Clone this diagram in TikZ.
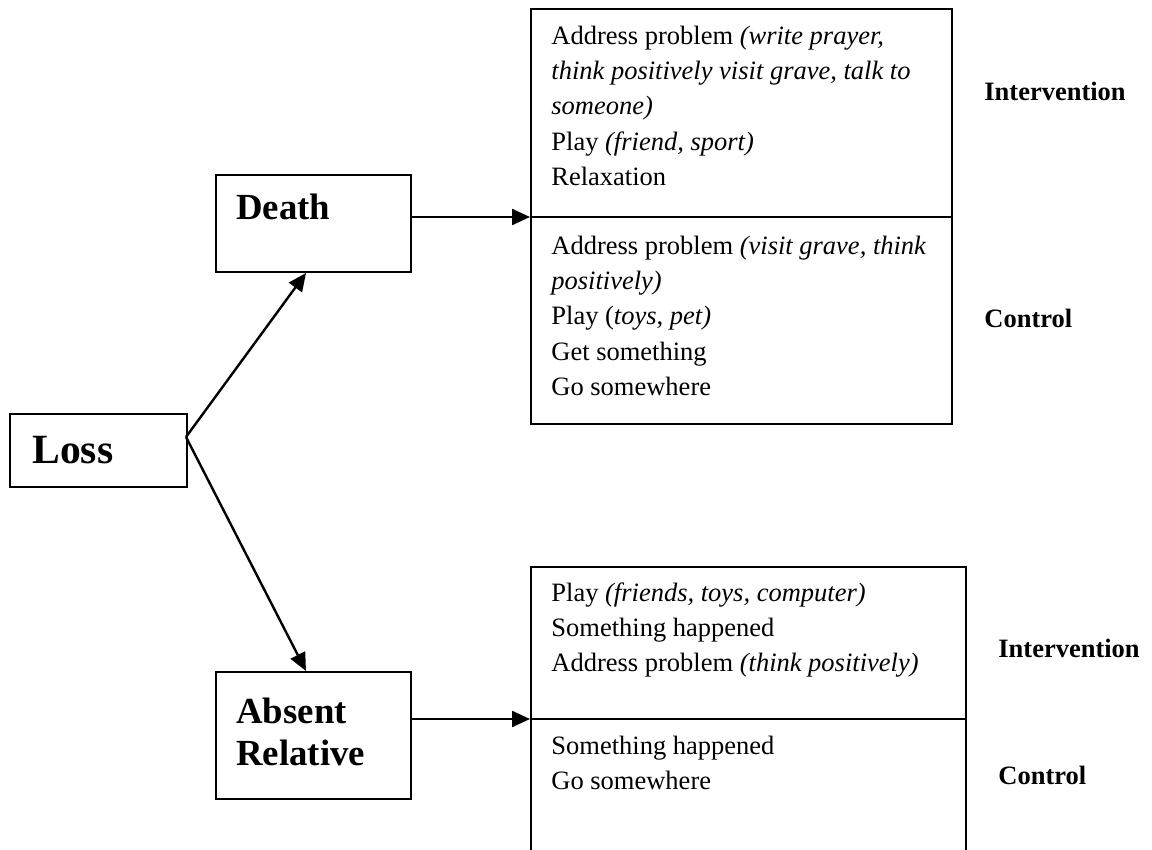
\documentclass[tikz,border=0pt]{standalone}
\usepackage{fontspec}
\setmainfont{Liberation Serif}
\usetikzlibrary{positioning,arrows.meta}

\begin{document}
\begin{tikzpicture}[
        x=0.5pt, y=-0.5pt,
        box/.style={
            rectangle, draw = black, line width = 1pt, anchor = north west, inner sep = 0pt
        },
        entries/.style={
            anchor = north west, inner sep = 0pt, align = left,
            font = \fontsize{13.25}{17.6}\selectfont
        },
        group/.style={
            anchor = base west, inner sep = 0pt,
            font = \fontsize{13.25}{16}\selectfont\bfseries
        },
        cause/.style={
            anchor = base west, inner sep = 0pt, align = left,
            font = \fontsize{18.4}{21}\selectfont\bfseries
        },
        flow/.style={
            -{Triangle[length=9pt,width=8pt]}, line width = 1.2pt
        },
    ]
    \useasboundingbox (0,0) rectangle (1152,850);
    \clip (0,0) rectangle (1152,850);

    \node (loss) [box, minimum width = 88.5pt, minimum height = 36.5pt] at (9,413) {};
    \node (lossText) [cause, font = \fontsize{20.8}{24}\selectfont\bfseries] at (32,463) {Loss};
    \coordinate (lossOut) at (186,437);

    \node (death) [box, minimum width = 97.5pt, minimum height = 48.5pt] at (215,174) {};
    \node (deathText) [cause] at (236,220) {Death};
    \path (lossOut) edge[flow] ([xshift=-3.75pt]death.south);

    \node (absent) [box, minimum width = 97.5pt, minimum height = 63.5pt] at (215,671) {};
    \node (absentText) [cause, anchor = north west] at (236,693.6) {\strut Absent \\ Relative};
    \path (lossOut) edge[flow] ([xshift=-3.75pt]absent.north);

    % death: intervention above, control below
    \node (deathBox) [box, minimum width = 210.5pt, minimum height = 207.5pt] at (530,8) {};
    \coordinate (deathSplit) at (530,217);
    \draw[line width = 1pt] (deathSplit) -- (deathSplit -| deathBox.east);
    \path (death.east |- deathSplit) edge[flow] (deathSplit);
    \node (deathInter) [entries] at (551,19.4) {\strut Address problem \textit{(write prayer,} \\
        \textit{think positively visit grave, talk to} \\ \textit{someone)} \\
        Play \textit{(friend, sport)} \\ Relaxation};
    \node (deathCtrl) [entries] at (551,229.4) {\strut Address problem \textit{(visit grave, think} \\
        \textit{positively)} \\ Play (\textit{toys}, \textit{pet)} \\ Get something \\ Go somewhere};
    \node (deathInterLabel) [group] at (984,101) {Intervention};
    \node (deathCtrlLabel) [group] at (984,328) {Control};

    % absent relative: intervention above, control below
    \node (absentBox) [box, minimum width = 217.5pt, minimum height = 150pt] at (530,566) {};
    \coordinate (absentSplit) at (530,719);
    \draw[line width = 1pt] (absentSplit) -- (absentSplit -| absentBox.east);
    \path (absent.east |- absentSplit) edge[flow] (absentSplit);
    \node (absentInter) [entries] at (551,576.4) {\strut Play \textit{(friends, toys, computer)} \\
        Something happened \\ Address problem \textit{(think positively)}};
    \node (absentCtrl) [entries] at (551,729.4) {\strut Something happened \\ Go somewhere};
    \node (absentInterLabel) [group] at (998,657) {Intervention};
    \node (absentCtrlLabel) [group] at (998,784) {Control};

\end{tikzpicture}
\end{document}
